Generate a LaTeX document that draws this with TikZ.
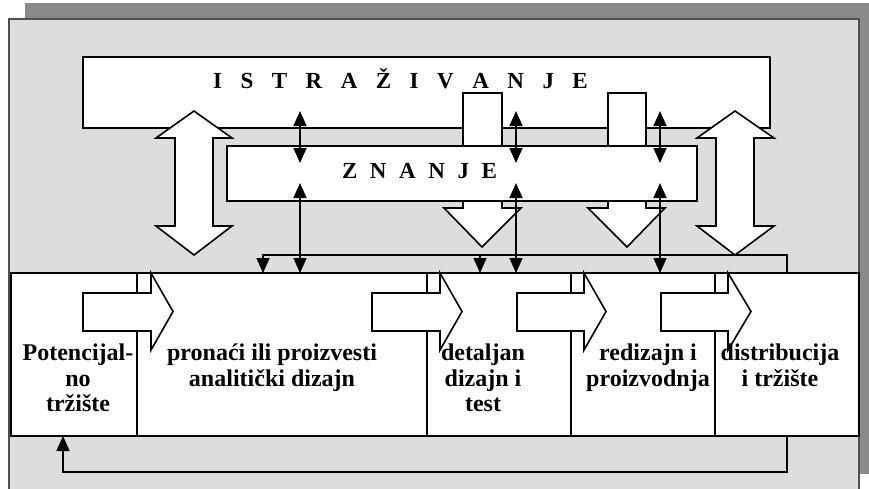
\documentclass[tikz,border=0pt]{standalone}
\usepackage{fontspec}
\setmainfont{Liberation Serif}
\usetikzlibrary{arrows.meta}
\definecolor{shadowgray}{RGB}{138,138,138}
\definecolor{framegray}{RGB}{221,221,221}
\definecolor{frameedge}{RGB}{80,80,80}
\newcommand\gapI{\hspace{18.5pt}}
\newcommand\gapZ{\hspace{12.6pt}}
\begin{document}
\begin{tikzpicture}[x=1pt,y=-1pt,
  boxw/.style={draw=black, fill=white, line width=1.6pt, inner sep=0pt, outer sep=0pt},
  blk/.style={draw=black, fill=white, line width=1.6pt, line join=miter},
  tipped/.style={line width=1.6pt, -{Triangle[length=15pt,width=13pt]}},
  dbl/.style={line width=1.6pt, {Triangle[length=15pt,width=13pt]}-{Triangle[length=15pt,width=13pt]}},
  celltext/.style={font=\fontsize{24}{25.5}\selectfont\bfseries, align=center, anchor=north, inner sep=0pt},
  headtext/.style={font=\fontsize{23}{25}\selectfont\bfseries, anchor=base, inner sep=0pt}
]
\useasboundingbox (0,0) rectangle (869,488);
\clip (0,0) rectangle (869,488);
\fill[white] (0,0) rectangle (869,488);
% shadow and frame
\fill[shadowgray] (25,3) rectangle (885,474);
\draw[fill=framegray, draw=frameedge, line width=2pt] (9,19) rectangle (859,500);

% ISTRAZIVANJE box
\node[boxw, anchor=north west, minimum width=687pt, minimum height=71pt] (istr) at (83,57) {};
\node[headtext] (istrt) at (400.5,88) {I\gapI S\gapI T\gapI R\gapI A\gapI Ž\gapI I\gapI V\gapI A\gapI N\gapI J\gapI E};

% middle down block arrows
\draw[blk] (463,93) -- (502,93) -- (502,208) -- (521,208) -- (482,247) -- (444,208) -- (463,208) -- cycle;
\draw[blk] (608,93) -- (646,93) -- (646,208) -- (665,208) -- (627,247) -- (588,208) -- (608,208) -- cycle;

% ZNANJE box
\node[boxw, anchor=north west, minimum width=470pt, minimum height=55pt] (zn) at (227,146) {};
\node[headtext] (znt) at (419.5,178) {Z\gapZ N\gapZ A\gapZ N\gapZ J\gapZ E};

% big double arrows
\draw[blk] (194,111) -- (232,138) -- (213,138) -- (213,226) -- (232,226) -- (194,255) -- (156,226) -- (175,226) -- (175,138) -- (156,138) -- cycle;
\draw[blk] (735,111) -- (774,138) -- (754,138) -- (754,226) -- (774,226) -- (735,255) -- (697,226) -- (716,226) -- (716,138) -- (697,138) -- cycle;

% bottom cells
\node[boxw, anchor=north west, minimum width=126pt, minimum height=163pt] (c1) at (11,273) {};
\node[boxw, anchor=north west, minimum width=290pt, minimum height=163pt] (c2) at (137,273) {};
\node[boxw, anchor=north west, minimum width=144pt, minimum height=163pt] (c3) at (427,273) {};
\node[boxw, anchor=north west, minimum width=144pt, minimum height=163pt] (c4) at (571,273) {};
\node[boxw, anchor=north west, minimum width=144pt, minimum height=163pt] (c5) at (715,273) {};

% right-pointing block arrows
\foreach \a/\b/\c in {83/151/173, 372/440/462, 517/584/606, 661/728/751}{
  \draw[blk] (\a,293) -- (\b,293) -- (\b,273) -- (\c,311.5) -- (\b,350) -- (\b,331) -- (\a,331) -- cycle;
}

% cell texts
\node[celltext] (t1) at (78,344) {Potencijal-\\no\\tržište};
\node[celltext] (t2) at (272,344) {pronaći ili proizvesti\\analitički dizajn};
\node[celltext] (t3) at (483,344) {detaljan\\dizajn i\\test};
\node[celltext] (t4) at (648,344) {redizajn i\\proizvodnja};
\node[celltext] (t5) at (780,344) {distribucija\\i tržište};

% thin double arrows
\foreach \x [count=\i] in {300,516,660}{
  \coordinate (ua\i) at (\x,111);
  \coordinate (da\i) at (\x,163);
  \coordinate (ub\i) at (\x,183);
  \coordinate (db\i) at (\x,273);
  \draw[dbl] (ua\i) -- (da\i);
  \draw[dbl] (ub\i) -- (db\i);
}

% top feedback line
\coordinate (fr) at (787,273);
\coordinate (fru) at (787,255);
\coordinate (flu) at (263,255);
\coordinate (fl) at (263,273);
\coordinate (fmu) at (480,255);
\coordinate (fm) at (480,273);
\draw[tipped] (fr) -- (fru) -- (flu) -- (fl);
\draw[tipped] (fmu) -- (fm);

% bottom feedback line
\coordinate (br) at (787,436);
\coordinate (brd) at (787,472);
\coordinate (bld) at (63,472);
\coordinate (bl) at (63,436);
\draw[tipped] (br) -- (brd) -- (bld) -- (bl);
\end{tikzpicture}
\end{document}
